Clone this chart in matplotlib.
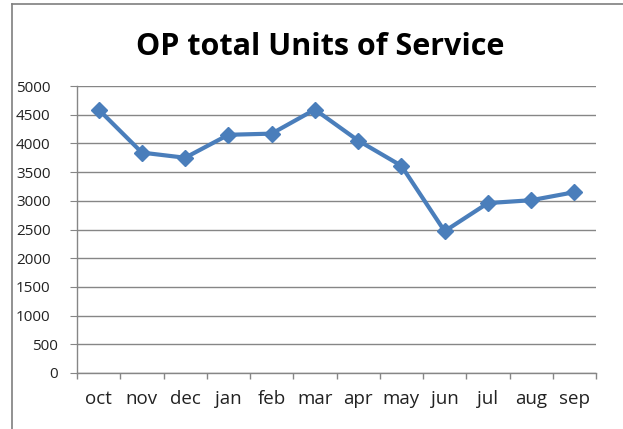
import matplotlib
matplotlib.use("Agg")
import matplotlib.pyplot as plt
from matplotlib.lines import Line2D
from matplotlib.transforms import ScaledTranslation

months = ['oct', 'nov', 'dec', 'jan', 'feb', 'mar', 'apr', 'may', 'jun', 'jul', 'aug', 'sep']
units = [4590, 3840, 3750, 4150, 4170, 4590, 4050, 3610, 2470, 2960, 3010, 3150]
yticks = list(range(0, 5001, 500))

plt.rcParams['font.family'] = ['Open Sans', 'DejaVu Sans']

fig = plt.figure(figsize=(6.23, 4.29), dpi=100)
ax = fig.add_axes([77 / 623, 1 - 373 / 429, (596 - 77) / 623, (373 - 86) / 429])

x = range(len(months))
ax.plot(x, units, color='#4a7ebb', lw=3, marker='D', markersize=8,
        markeredgecolor='#4a7ebb', zorder=3)

ax.set_xlim(-0.5, len(months) - 0.5)
ax.set_ylim(0, 5000)
ax.set_yticks(yticks)
ax.set_yticklabels([str(v) for v in yticks])
ax.set_xticks(x)
ax.set_xticklabels(months)
ax.set_xticks([i - 0.5 for i in range(len(months) + 1)], minor=True)
ax.tick_params(axis='x', which='major', length=0, pad=12, labelsize=13.5, colors='#222222')
ax.tick_params(axis='x', which='minor', length=4.5, color='#868686', width=1)
ax.tick_params(axis='y', length=5, labelsize=11, colors='#222222', pad=14)
ax.tick_params(axis='y', color='#868686')

# short labels sit a bit further right in the original
for lab in ax.get_yticklabels():
    if len(lab.get_text()) < 4:
        lab.set_transform(lab.get_transform() + ScaledTranslation(0.07, 0, fig.dpi_scale_trans))

ax.yaxis.grid(True, color='#868686', lw=1)
ax.set_axisbelow(True)
for s in ['top', 'right']:
    ax.spines[s].set_visible(False)
for s in ['left', 'bottom']:
    ax.spines[s].set_color('#868686')
    ax.spines[s].set_linewidth(1)

fig.text(320 / 623, 1 - 55 / 429, 'OP total Units of Service', ha='center', va='baseline',
         fontsize=22, fontweight='bold', color='black')

# outer chart frame
fig.add_artist(Line2D([12 / 623, 1], [1 - 4 / 429, 1 - 4 / 429], color='#7f7f7f', lw=1.2))
fig.add_artist(Line2D([12 / 623, 12 / 623], [0, 1 - 4 / 429], color='#7f7f7f', lw=1.2))

fig.savefig('out.png', dpi=100)
